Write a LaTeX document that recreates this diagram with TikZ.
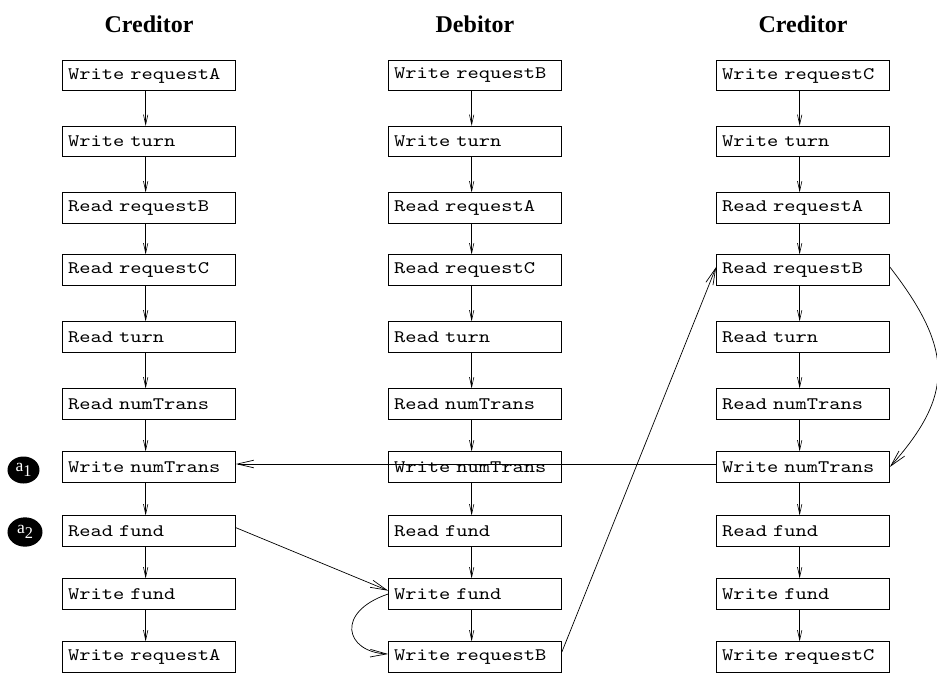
\documentclass[tikz,border=0pt]{standalone}
\usepackage{fontspec}
\setmainfont{Liberation Serif}
\setmonofont{lmmono10-regular}[Extension=.otf,FakeStretch=1.22]
\usetikzlibrary{arrows.meta}
\usetikzlibrary{shapes}

\tikzset{
  stmt/.style={draw, line width=0.6pt, rectangle, minimum height=9.15mm,
    text width=48.5mm, inner xsep=1.7mm, inner ysep=0pt, align=left,
    font=\fontsize{15}{17}\selectfont\ttfamily},
  head/.style={anchor=base, font=\fontsize{20.5}{24}\selectfont\bfseries},
  tag/.style={ellipse, fill=black, text=white, inner sep=0pt,
    minimum width=9.6mm, minimum height=8.1mm, font=\fontsize{15}{17}\selectfont},
  flow/.style={-{Straight Barb[length=8.5pt,width=3.8pt]}, line width=0.5pt},
  jump/.style={-{Straight Barb[length=14pt,width=6.5pt]}, line width=0.6pt},
}
\newcommand{\sub}[1]{a\raisebox{-0.55ex}{\fontsize{14}{14}\selectfont #1}}

\begin{document}
\begin{tikzpicture}[x=0.3mm,y=-0.3mm]
\useasboundingbox (0,0) rectangle (937,672);

\node[head] (hl) at (149,33) {Creditor};
\node[head] (hm) at (475,33) {Debitor};
\node[head] (hr) at (803,33) {Creditor};

\node[stmt] (l1) at (149,75.5) {Write requestA};
\node[stmt] (l2) at (149,141.5) {Write turn};
\node[stmt] (l3) at (149,208) {Read requestB};
\node[stmt] (l4) at (149,270) {Read requestC};
\node[stmt] (l5) at (149,337) {Read turn};
\node[stmt] (l6) at (149,404) {Read numTrans};
\node[stmt] (l7) at (149,467) {Write numTrans};
\node[stmt] (l8) at (149,531) {Read fund};
\node[stmt] (l9) at (149,594) {Write fund};
\node[stmt] (l10) at (149,657) {Write requestA};

\node[stmt] (m1) at (475,75.5) {Write requestB};
\node[stmt] (m2) at (475,141.5) {Write turn};
\node[stmt] (m3) at (475,208) {Read requestA};
\node[stmt] (m4) at (475,270) {Read requestC};
\node[stmt] (m5) at (475,337) {Read turn};
\node[stmt] (m6) at (475,404) {Read numTrans};
\node[stmt] (m7) at (475,467) {Write numTrans};
\node[stmt] (m8) at (475,531) {Read fund};
\node[stmt] (m9) at (475,594) {Write fund};
\node[stmt] (m10) at (475,657) {Write requestB};

\node[stmt] (r1) at (803,75.5) {Write requestC};
\node[stmt] (r2) at (803,141.5) {Write turn};
\node[stmt] (r3) at (803,208) {Read requestA};
\node[stmt] (r4) at (803,270) {Read requestB};
\node[stmt] (r5) at (803,337) {Read turn};
\node[stmt] (r6) at (803,404) {Read numTrans};
\node[stmt] (r7) at (803,467) {Write numTrans};
\node[stmt] (r8) at (803,531) {Read fund};
\node[stmt] (r9) at (803,594) {Write fund};
\node[stmt] (r10) at (803,657) {Write requestC};

\node[tag] (a1) at (23.5,470) {\sub{1}};
\node[tag, minimum width=10.5mm, minimum height=8.8mm] (a2) at (25,532) {\sub{2}};

\foreach \c in {l,m,r}
  \foreach \i [count=\j from 2] in {1,...,9}
    \draw[flow] ([xshift=-1mm]\c\i.south) -- ([xshift=-1mm]\c\j.north);

\draw[jump] ([yshift=0.9mm]r7.west) -- ([yshift=0.9mm]l7.east);
\draw[jump] ([yshift=1mm]l8.east) -- ([yshift=1mm]m9.west);
\draw[jump] (m9.west) .. controls (335,612) and (345,652) .. ([yshift=0.9mm]m10.west);
\draw[jump] ([yshift=1.5mm]m10.east) -- ([yshift=0.9mm]r4.west);
\draw[jump] ([yshift=0.9mm]r4.east) .. controls (954,350) and (954,395) .. (r7.east);
\end{tikzpicture}
\end{document}
